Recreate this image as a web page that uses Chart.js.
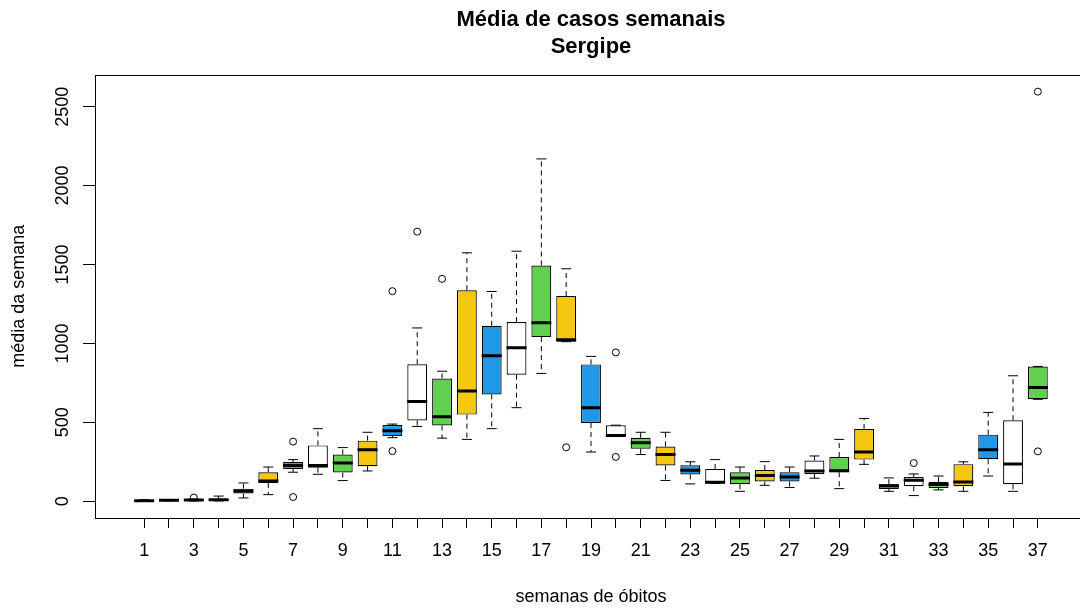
<!DOCTYPE html>
<html lang="pt-BR">
<head>
<meta charset="utf-8">
<title>Média de casos semanais - Sergipe</title>
<script src="https://cdn.jsdelivr.net/npm/chart.js@4.4.1/dist/chart.umd.min.js"></script>
<style>
  html, body { margin: 0; padding: 0; background: #fff; overflow: hidden; }
  #wrap { width: 1100px; height: 610px; }
</style>
</head>
<body>
<div id="wrap"><canvas id="chart" width="1100" height="610"></canvas></div>
<script>
"use strict";

const TITLE = ["Média de casos semanais", "Sergipe"];
const X_TITLE = "semanas de óbitos";
const Y_TITLE = "média da semana";

// one box per week: whiskers, quartiles, median
const weeks = [1, 2, 3, 4, 5, 6, 7, 8, 9, 10, 11, 12, 13, 14, 15, 16, 17, 18, 19,
  20, 21, 22, 23, 24, 25, 26, 27, 28, 29, 30, 31, 32, 33, 34, 35, 36, 37];
const whiskerLow = [0, 2, 2, 2, 21, 42, 184, 171, 131, 192, 403, 474, 400, 392, 460, 593, 810, 1011, 312,
  411, 296, 132, 110, 113, 63, 101, 87, 146, 80, 234, 63, 36, 72, 63, 160, 63, 646];
const quart1 = [2, 4, 5, 6, 49, 116, 204, 213, 182, 222, 413, 512, 480, 549, 677, 802, 1040, 1011, 496,
  411, 333, 227, 170, 113, 108, 125, 125, 173, 184, 264, 78, 95, 84, 95, 266, 108, 646];
const medians = [4, 6, 8, 10, 65, 128, 226, 226, 242, 327, 447, 632, 535, 698, 922, 973, 1131, 1023, 593,
  417, 370, 296, 197, 121, 148, 163, 154, 192, 194, 312, 99, 133, 106, 122, 327, 236, 720];
const quart3 = [7, 8, 11, 16, 80, 184, 249, 354, 296, 384, 483, 868, 778, 1337, 1112, 1135, 1494, 1300, 867,
  482, 402, 347, 228, 205, 184, 198, 184, 258, 280, 458, 108, 154, 122, 235, 422, 513, 854];
const whiskerHigh = [10, 11, 14, 33, 116, 217, 264, 460, 340, 437, 489, 1098, 824, 1574, 1329, 1584, 2169, 1473, 918,
  482, 437, 437, 250, 264, 217, 251, 217, 287, 392, 525, 148, 173, 160, 250, 563, 795, 854];

const outlierWeeks = [3, 7, 7, 11, 11, 12, 13, 18, 20, 20, 32, 37, 37];
const outlierValues = [24, 378, 27, 1331, 318, 1708, 1409, 342, 943, 281, 242, 2595, 316];

const xLabelWeeks = [1, 3, 5, 7, 9, 11, 13, 15, 17, 19, 21, 23, 25, 27, 29, 31, 33, 35, 37];
const yTicks = [0, 500, 1000, 1500, 2000, 2500];

const PALETTE = ["#61D04F", "#F5C710", "#2297E6", "#FFFFFF"];
const FONT = "'Liberation Sans', Arial, Helvetica, sans-serif";

function $(id) { return document.getElementById(id); }

function pairs(values) {
  return weeks.map((w, i) => ({ x: w, y: values[i] }));
}

function whiskerPath() {
  const pts = [];
  weeks.forEach((w, i) => {
    pts.push({ x: w, y: quart3[i] }, { x: w, y: whiskerHigh[i] }, { x: w, y: null });
    pts.push({ x: w, y: quart1[i] }, { x: w, y: whiskerLow[i] }, { x: w, y: null });
  });
  return pts;
}

// R draws a closed box round the plot region
const frame = {
  id: "frame",
  afterDatasetsDraw(chart) {
    const { ctx, chartArea: a } = chart;
    ctx.save();
    ctx.strokeStyle = "#000";
    ctx.lineWidth = 1;
    ctx.strokeRect(Math.round(a.left) + 0.5, Math.round(a.top) + 0.5,
      Math.round(a.right - a.left), Math.round(a.bottom - a.top));
    ctx.restore();
  },
};

function start() {
  Chart.defaults.font.family = FONT;
  Chart.defaults.color = "#000";

  new Chart($("chart"), {
    type: "bar",
    data: {
      datasets: [
        {
          type: "line", label: "whiskers", order: 5,
          data: whiskerPath(), spanGaps: false, tension: 0,
          borderColor: "#000", borderWidth: 1, borderDash: [5, 4], pointRadius: 0,
        },
        {
          type: "bar", label: "box", order: 4,
          data: weeks.map((w, i) => ({ x: w, y: [quart1[i], quart3[i]] })),
          backgroundColor: weeks.map((w, i) => PALETTE[i % PALETTE.length]),
          borderColor: "#000", borderWidth: 1.2, borderSkipped: false,
          barPercentage: 1, categoryPercentage: 0.8,
        },
        {
          type: "scatter", label: "caps", order: 3,
          data: pairs(whiskerHigh).concat(pairs(whiskerLow)),
          pointStyle: "line", pointRadius: 5, pointBorderWidth: 1, pointBorderColor: "#000",
        },
        {
          type: "scatter", label: "median", order: 2,
          data: pairs(medians),
          pointStyle: "line", pointRadius: 10, pointBorderWidth: 3, pointBorderColor: "#000",
        },
        {
          type: "scatter", label: "outliers", order: 1,
          data: outlierWeeks.map((w, i) => ({ x: w, y: outlierValues[i] })),
          pointStyle: "circle", pointRadius: 3.5, pointBorderWidth: 1,
          pointBorderColor: "#000", pointBackgroundColor: "rgba(0,0,0,0)",
        },
      ],
    },
    options: {
      responsive: false, animation: false, events: [],
      layout: { padding: { left: 0, right: 11, top: 0, bottom: 0 } },
      plugins: {
        legend: { display: false },
        tooltip: { enabled: false },
        title: {
          display: true, fullSize: false, text: TITLE, color: "#000",
          font: { size: 22, weight: "bold", lineHeight: 1.25 },
          padding: { top: 6, bottom: 13.6 },
        },
      },
      scales: {
        x: {
          type: "linear", min: -0.98, max: 38.98, offset: false, bounds: "data",
          afterBuildTicks: s => { s.ticks = weeks.map(v => ({ value: v })); },
          afterFit: s => { s.height = 92; },
          grid: { drawOnChartArea: false, drawTicks: true, tickLength: 10, color: "#000", offset: false },
          border: { display: false },
          ticks: {
            autoSkip: false, maxRotation: 0, padding: 12, color: "#000", font: { size: 18 },
            callback: v => (xLabelWeeks.includes(v) ? String(v) : ""),
          },
          title: { display: true, text: X_TITLE, color: "#000", font: { size: 18 }, padding: { top: 0, bottom: 2 } },
        },
        y: {
          type: "linear", min: -106, max: 2703, bounds: "data",
          afterBuildTicks: s => { s.ticks = yTicks.map(v => ({ value: v })); },
          afterFit: s => { s.width = 95; },
          grid: { drawOnChartArea: false, drawTicks: true, tickLength: 12, color: "#000" },
          border: { display: false },
          ticks: {
            minRotation: 90, maxRotation: 90, crossAlign: "center", padding: 0,
            color: "#000", font: { size: 18 },
            callback: v => String(v),
          },
          title: { display: true, text: Y_TITLE, color: "#000", font: { size: 18 }, padding: { top: 8, bottom: 0 } },
        },
      },
    },
    plugins: [frame],
  });
}

document.addEventListener("DOMContentLoaded", start);
</script>
</body>
</html>
